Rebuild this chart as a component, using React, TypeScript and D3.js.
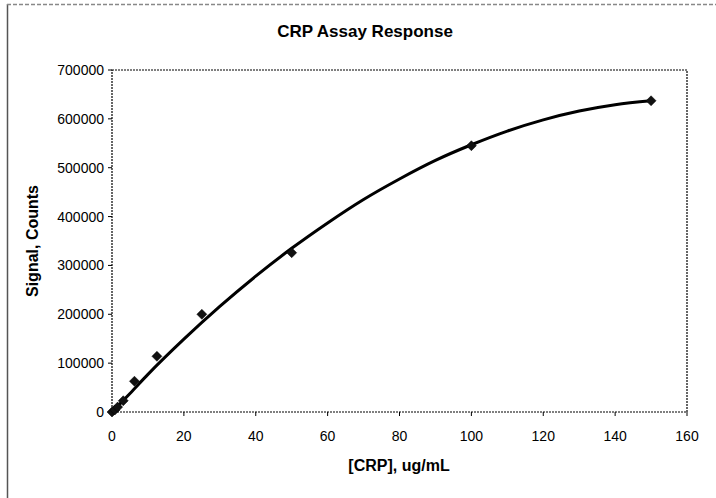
import React from "react";
import * as d3 from "d3";

const xTicks = [0, 20, 40, 60, 80, 100, 120, 140, 160];
const yTicks = [0, 100000, 200000, 300000, 400000, 500000, 600000, 700000];

// measured points
const pointX = [0, 0.78, 1.56, 3.125, 6.25, 12.5, 25, 50, 100, 150];
const pointY = [0, 4000, 10000, 23000, 63000, 114000, 200000, 326000, 545000, 637000];

// fitted curve
const curveX = [0, 5, 10, 20, 30, 40, 50, 60, 70, 80, 90, 100, 110, 120, 130, 140, 150];
const curveY = [0, 38000, 77000, 149000, 216000, 278000, 335000, 387000, 435000, 477000, 515000, 547000, 575000, 598000, 616000, 629000, 637000];

const W = 716;
const H = 498;
const M = { left: 112, right: 687, top: 70, bottom: 412 };

export default function App() {
  const x = d3.scaleLinear().domain([0, 160]).range([M.left, M.right]);
  const y = d3.scaleLinear().domain([0, 700000]).range([M.bottom, M.top]);
  const line = d3
    .line<number>()
    .x((_, i) => x(curveX[i]))
    .y((d) => y(d))
    .curve(d3.curveMonotoneX);
  const font = "'Liberation Sans', Arial, sans-serif";
  const diamond = (cx: number, cy: number, r: number) =>
    `M${cx},${cy - r}L${cx + r},${cy}L${cx},${cy + r}L${cx - r},${cy}Z`;

  return (
    <div style={{ position: "absolute", left: 0, top: 0 }}>
      <svg width={W} height={H} style={{ display: "block", background: "#fff" }}>
        <rect x={0} y={0} width={W} height={H} fill="#fff" />
        {/* outer chart border */}
        <line x1={7.5} y1={4} x2={7.5} y2={H} stroke="#555" strokeWidth={1.5} />
        <line x1={7} y1={4.5} x2={W} y2={4.5} stroke="#888" strokeWidth={1.5} strokeDasharray="4,2" />

        <text x={365} y={37} textAnchor="middle" fontFamily={font} fontWeight="bold" fontSize={17}>
          CRP Assay Response
        </text>

        {/* plot area border dotted */}
        <rect
          x={M.left}
          y={M.top}
          width={M.right - M.left}
          height={M.bottom - M.top}
          fill="none"
          stroke="#000"
          strokeWidth={1.2}
          strokeDasharray="2,1"
        />

        {/* y ticks */}
        {yTicks.map((t) => (
          <g key={"y" + t}>
            <line x1={M.left - 4} x2={M.left} y1={y(t)} y2={y(t)} stroke="#000" strokeWidth={1} />
            <text
              x={104}
              y={y(t) + 5}
              textAnchor="end"
              fontFamily={font}
              fontSize={14}
              fill="#000"
            >
              {t}
            </text>
          </g>
        ))}
        {/* x ticks */}
        {xTicks.map((t) => (
          <g key={"x" + t}>
            <line x1={x(t)} x2={x(t)} y1={M.bottom} y2={M.bottom + 4} stroke="#000" strokeWidth={1} />
            <text x={x(t)} y={441} textAnchor="middle" fontFamily={font} fontSize={14} fill="#000">
              {t}
            </text>
          </g>
        ))}

        <text x={399} y={471} textAnchor="middle" fontFamily={font} fontWeight="bold" fontSize={16}>
          [CRP], ug/mL
        </text>
        <text
          transform={`translate(38,241) rotate(-90)`}
          textAnchor="middle"
          fontFamily={font}
          fontWeight="bold"
          fontSize={16}
        >
          Signal, Counts
        </text>

        <path d={line(curveY) || ""} fill="none" stroke="#000" strokeWidth={3} />
        {pointY.map((v, i) => (
          <path key={"p" + i} d={diamond(x(pointX[i]), y(v), 5)} fill="#111" stroke="#000" strokeWidth={0.5} />
        ))}
      </svg>
    </div>
  );
}
